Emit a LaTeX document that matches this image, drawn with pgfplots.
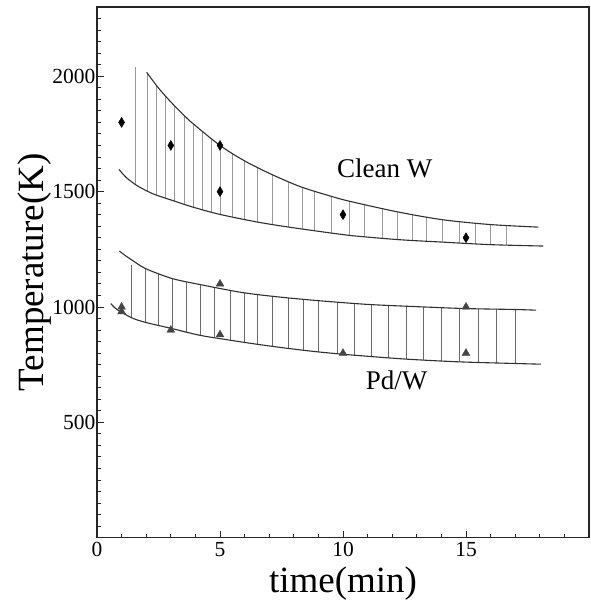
\documentclass[border=0pt]{standalone}
\usepackage{pgfplots}
\pgfplotsset{compat=1.18}
\usepackage{fontspec}
\setmainfont{Liberation Serif}
\definecolor{curve}{HTML}{303030}
\definecolor{hatchW}{HTML}{9A9A9A}
\definecolor{hatchPd}{HTML}{6A6A6A}
\definecolor{tri}{HTML}{454545}

\begin{document}
\begin{tikzpicture}
\begin{axis}[scale only axis,width=492pt,height=530.7pt,
xmin=0,xmax=20,ymin=0,ymax=2300,
xtick={0,5,10,15},ytick={500,1000,1500,2000},
minor xtick={1,2,3,4,6,7,8,9,11,12,13,14,16,17,18,19},
minor ytick={50,100,...,2250},
tick align=inside,xtick pos=left,ytick pos=left,
major tick length=7pt,minor tick length=4pt,
every tick/.style={black!85,line width=0.9pt},
axis line style={black!85,line width=1.2pt},
/pgf/number format/assume math mode=true,
/pgf/number format/set thousands separator={},
tick label style={font=\fontsize{21.5}{21.5}\selectfont},
xticklabel style={yshift=-1pt},
yticklabel style={xshift=2pt},
xlabel={time(min)},ylabel={Temperature(K)},
label style={font=\fontsize{37}{37}\selectfont},
xlabel style={at={(axis description cs:0.5,-0.087)},anchor=center},
ylabel style={at={(axis description cs:-0.127,0.5)},anchor=center,rotate=0},
unbounded coords=jump,clip=false]
% Clean W hatching
\addplot[hatchW,line width=0.8pt] coordinates {
(1.57,1530) (1.57,2039) (1.57,nan)
(2.04,1502) (2.04,2014) (2.04,nan)
(2.43,1484) (2.43,1958) (2.43,nan)
(2.80,1471) (2.80,1913) (2.80,nan)
(3.14,1459) (3.14,1873) (3.14,nan)
(3.55,1445) (3.55,1829) (3.55,nan)
(3.92,1432) (3.92,1793) (3.92,nan)
(4.30,1421) (4.30,1760) (4.30,nan)
(4.66,1410) (4.66,1729) (4.66,nan)
(5.00,1401) (5.00,1700) (5.00,nan)
(5.50,1390) (5.50,1666) (5.50,nan)
(5.98,1380) (5.98,1634) (5.98,nan)
(6.52,1368) (6.52,1605) (6.52,nan)
(7.13,1358) (7.13,1573) (7.13,nan)
(7.80,1346) (7.80,1543) (7.80,nan)
(8.36,1337) (8.36,1518) (8.36,nan)
(8.82,1330) (8.82,1503) (8.82,nan)
(9.54,1320) (9.54,1479) (9.54,nan)
(10.26,1310) (10.26,1458) (10.26,nan)
(10.87,1304) (10.87,1444) (10.87,nan)
(11.61,1298) (11.61,1426) (11.61,nan)
(12.22,1292) (12.22,1412) (12.22,nan)
(12.82,1288) (12.82,1401) (12.82,nan)
(13.40,1285) (13.40,1390) (13.40,nan)
(14.05,1281) (14.05,1378) (14.05,nan)
(14.73,1277) (14.73,1371) (14.73,nan)
(15.37,1273) (15.37,1364) (15.37,nan)
(16.00,1270) (16.00,1357) (16.00,nan)
(16.63,1268) (16.63,1353)};
% Pd/W hatching
\addplot[hatchPd,line width=0.9pt] coordinates {
(1.41,953) (1.41,1180) (1.41,nan)
(1.98,933) (1.98,1166) (1.98,nan)
(2.49,920) (2.49,1144) (2.49,nan)
(3.06,906) (3.06,1123) (3.06,nan)
(3.63,891) (3.63,1110) (3.63,nan)
(4.19,877) (4.19,1097) (4.19,nan)
(4.78,867) (4.78,1085) (4.78,nan)
(5.41,856) (5.41,1072) (5.41,nan)
(5.99,847) (5.99,1061) (5.99,nan)
(6.53,838) (6.53,1054) (6.53,nan)
(7.15,829) (7.15,1046) (7.15,nan)
(7.79,820) (7.79,1039) (7.79,nan)
(8.39,813) (8.39,1033) (8.39,nan)
(9.01,805) (9.01,1028) (9.01,nan)
(9.76,798) (9.76,1021) (9.76,nan)
(10.45,791) (10.45,1016) (10.45,nan)
(11.17,785) (11.17,1010) (11.17,nan)
(11.86,779) (11.86,1007) (11.86,nan)
(12.56,774) (12.56,1003) (12.56,nan)
(13.29,770) (13.29,1000) (13.29,nan)
(14.02,766) (14.02,997) (14.02,nan)
(14.74,762) (14.74,995) (14.74,nan)
(15.50,760) (15.50,992) (15.50,nan)
(16.22,758) (16.22,990) (16.22,nan)
(17.00,755) (17.00,989)};
% Clean W bounds
\addplot[curve,line width=1.1pt,smooth] coordinates {
(2.02,2017) (2.49,1950) (3.04,1884) (3.58,1826) (3.92,1793) (5,1700)
(6,1633) (7.13,1573) (8.3,1520) (9.54,1479) (10.27,1458) (12.22,1412)
(14.05,1378) (16,1357) (17.94,1346)};
\addplot[curve,line width=1.1pt,smooth] coordinates {
(0.89,1596) (1.2,1560) (1.61,1527) (2.04,1502) (2.43,1484) (3.17,1458)
(3.92,1432) (5,1401) (6.52,1368) (7.80,1346) (9.54,1320) (10.26,1310)
(12.22,1292) (14.05,1281) (16,1270) (18.14,1264)};
% Pd/W bounds
\addplot[curve,line width=1.1pt,smooth] coordinates {
(0.91,1242) (1.21,1218) (1.41,1204) (1.98,1166) (3.06,1123) (4.19,1097)
(5,1080) (5.99,1061) (7.15,1046) (8.39,1033) (9.6,1022) (11.17,1010)
(13.29,1000) (15,993) (17,989) (17.85,986)};
\addplot[curve,line width=1.1pt,smooth] coordinates {
(0.56,1015) (0.80,990) (1.41,953) (1.98,933) (3.06,906) (4.19,877)
(5.41,856) (6.53,838) (7.79,820) (9.01,805) (10.45,791) (12.56,774)
(14.74,762) (17,755) (18.04,752)};
% measured points
\addplot[only marks,mark=diamond*,mark size=5pt,black,
mark options={xscale=0.8,fill=black}] coordinates {
(1,1800) (3,1700) (5,1700) (5,1500) (10,1400) (15,1300)};
\addplot[only marks,mark=triangle*,mark size=4.5pt,tri,
mark options={fill=tri}] coordinates {
(1,1000) (1,980) (3,900) (5,1100) (5,880) (10,800) (15,1000) (15,800)};
\node[font=\fontsize{27}{27}\selectfont] at (axis cs:11.7,1599) {Clean W};
\node[font=\fontsize{27}{27}\selectfont] at (axis cs:12.18,683) {Pd/W};
\end{axis}
\path[use as bounding box] (-97pt,-67.3pt) rectangle (494pt,537.7pt);
\end{tikzpicture}
\end{document}
